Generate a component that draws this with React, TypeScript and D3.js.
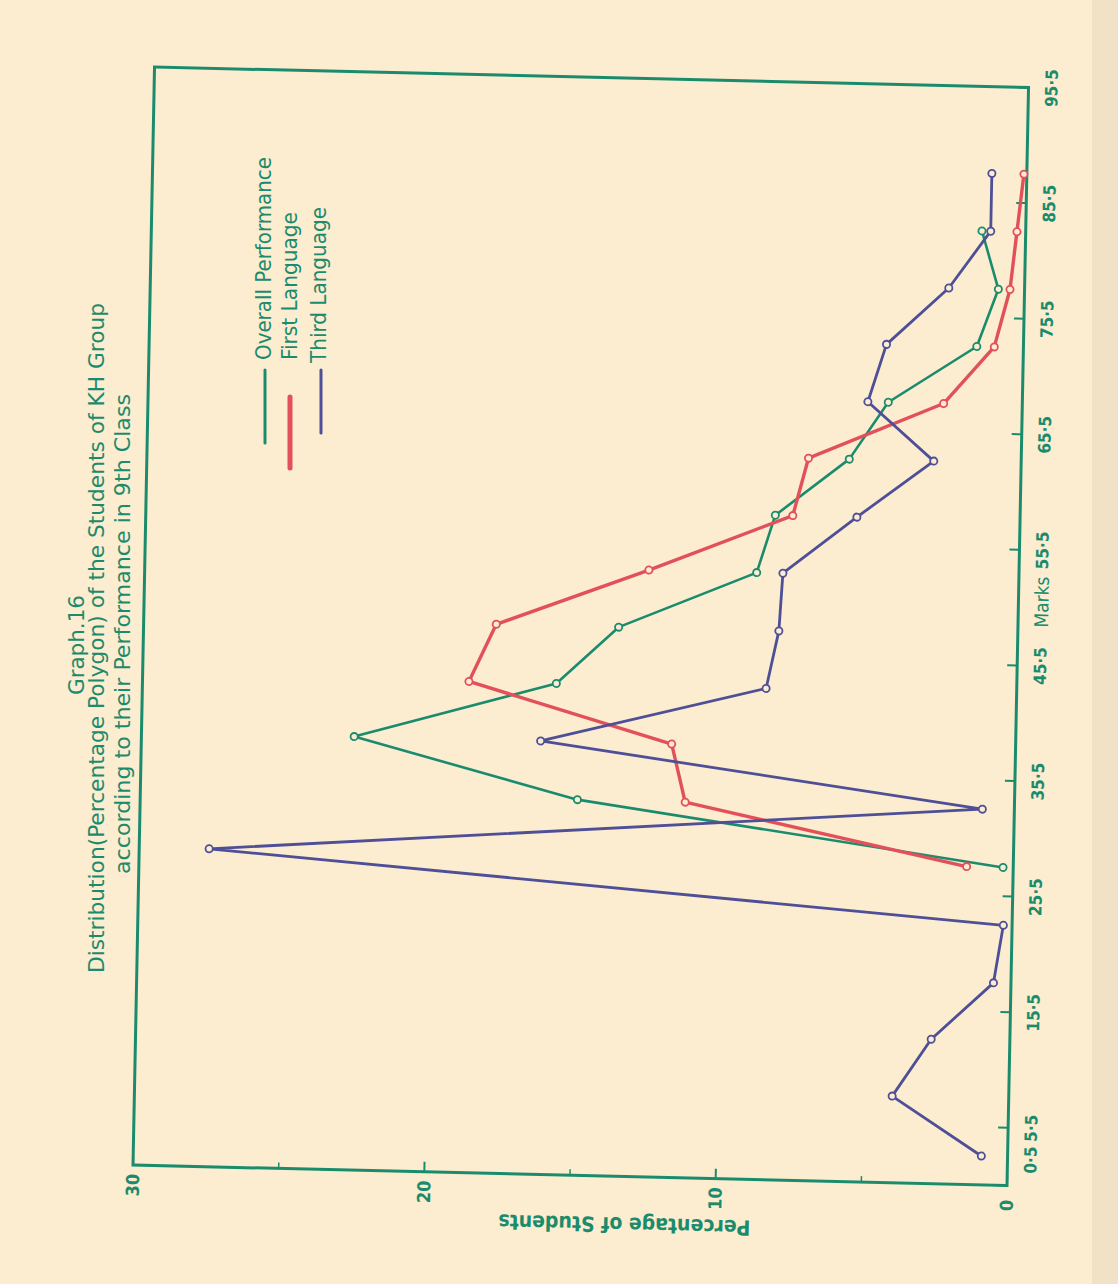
import React from 'react';
import * as d3 from 'd3';

// Class-interval midpoints (marks), intervals of 5 starting at 0.5
const MARKS = [3, 8, 13, 18, 23, 28, 33, 38, 43, 48, 53, 58, 63, 68, 73, 78, 83, 88];

// Percentage of students per interval
const thirdLanguage = [0.9, 4.0, 2.7, 0.6, 0.3, 27.6, 1.1, 16.3, 8.6, 8.2, 8.1, 5.6, 3.0, 5.3, 4.7, 2.6, 1.2, 1.2];
const overallMarks = [28, 33, 38, 43, 48, 53, 58, 63, 68, 73, 78, 83];
const overall = [0.35, 15.0, 22.7, 15.8, 13.7, 9.0, 8.4, 5.9, 4.6, 1.6, 0.9, 1.5];
const firstLanguageMarks = [28, 33, 38, 43, 48, 53, 58, 63, 68, 73, 78, 83, 88];
const firstLanguage = [1.6, 11.3, 11.8, 18.8, 17.9, 12.7, 7.8, 7.3, 2.7, 1.0, 0.5, 0.3, 0.1];

const markTicks = [0.5, 5.5, 15.5, 25.5, 35.5, 45.5, 55.5, 65.5, 75.5, 85.5, 95.5];
const pctTicks = [0, 10, 20, 30];
const pctMinorTicks = [5, 15, 25];

const legendLabels = ['Overall Performance', 'First Language', 'Third Language'];

const BG = '#fcecd0';
const TEAL = '#1b8b6d';
const RED = '#e2505a';
const BLUE = '#4e4f97';
const FONT = "'Liberation Sans Narrow', 'DejaVu Sans Condensed', 'Roboto Condensed', Arial, sans-serif";

const W = 1118;
const H = 1284;
// plot size in the chart's own (unrotated) frame
const PW = 1098;
const PH = 874;

const fmt = (v: number) => String(v).replace('.', '·');

const App: React.FC = () => {
  const x = d3.scaleLinear().domain([0.5, 95.5]).range([0, PW]);
  const y = d3.scaleLinear().domain([0, 30]).range([PH, 0]);

  const series = [
    { name: 'overall', xs: overallMarks, ys: overall, color: TEAL, width: 2.6 },
    { name: 'first', xs: firstLanguageMarks, ys: firstLanguage, color: RED, width: 3.4 },
    { name: 'third', xs: MARKS, ys: thirdLanguage, color: BLUE, width: 2.8 },
  ];

  const legendColors = [TEAL, RED, BLUE];
  const legendLines = [
    [265, 370, 443, 3],
    [290, 397, 468, 5],
    [321, 370, 433, 3],
  ];
  const legendText = [
    [271, 360, 203],
    [297, 360, 148],
    [326, 363, 156],
  ];

  return (
    <svg width={W} height={H} style={{ position: 'absolute', left: 0, top: 0 }} fontFamily={FONT}>
      <rect width={W} height={H} fill={BG} />
      <rect x={1092} width={26} height={H} fill="#e9dcc2" opacity={0.6} />

      {/* Title (vertical on the page) */}
      <g fill={TEAL}>
        <text transform="translate(84,645) rotate(-90)" textAnchor="middle" fontSize={21}
          textLength={100} lengthAdjust="spacingAndGlyphs">Graph.16</text>
        <text transform="translate(104,638) rotate(-90)" textAnchor="middle" fontSize={22}
          textLength={670} lengthAdjust="spacingAndGlyphs">
          Distribution(Percentage Polygon) of the Students of KH Group
        </text>
        <text transform="translate(130,634) rotate(-90)" textAnchor="middle" fontSize={22}
          textLength={480} lengthAdjust="spacingAndGlyphs">
          according to their Performance in 9th Class
        </text>
      </g>

      {/* Legend */}
      {legendLabels.map((l, i) => (
        <g key={l}>
          <line x1={legendLines[i][0]} x2={legendLines[i][0]} y1={legendLines[i][1]} y2={legendLines[i][2]}
            stroke={legendColors[i]} strokeWidth={legendLines[i][3]} strokeLinecap="round" />
          <text transform={`translate(${legendText[i][0]},${legendText[i][1]}) rotate(-90)`} fill={TEAL}
            fontSize={21} textLength={legendText[i][2]} lengthAdjust="spacingAndGlyphs">{l}</text>
        </g>
      ))}

      {/* Chart drawn in its own frame, turned onto the page like the scan */}
      <g transform="matrix(0.0196,-1,1,0.0235,133,1165)">
        <rect x={0} y={0} width={PW} height={PH} fill="none" stroke={TEAL} strokeWidth={3} />

        {markTicks.map((t) => (
          <g key={t} transform={`translate(${x(t)},0)`}>
            <line y1={PH} y2={PH - 10} stroke={TEAL} strokeWidth={2} />
            <text x={t === 0.5 ? 26 : 0} y={PH + 29} textAnchor="middle" fill={TEAL}
              fontSize={17} fontWeight="bold">{fmt(t)}</text>
          </g>
        ))}
        <text x={584} y={PH + 30} textAnchor="middle" fill={TEAL} fontSize={19}>Marks</text>

        {pctTicks.map((t) => (
          <g key={t} transform={`translate(0,${y(t)})`}>
            <line x1={0} x2={10} stroke={TEAL} strokeWidth={2} />
            <text x={-20} dy="0.35em" textAnchor="middle" fill={TEAL} fontSize={18} fontWeight="bold">{t}</text>
          </g>
        ))}
        {pctMinorTicks.map((t) => (
          <line key={t} x1={0} x2={6} y1={y(t)} y2={y(t)} stroke={TEAL} strokeWidth={1.5} />
        ))}
        <text transform={`translate(-41,${y(13.1)}) rotate(-90)`} textAnchor="middle" fill={TEAL}
          fontSize={21} fontWeight="bold" textLength={252} lengthAdjust="spacingAndGlyphs">
          Percentage of Students
        </text>

        {series.map((s) => {
          const line = d3.line<number>().x((_, i) => x(s.xs[i])).y((v) => y(v));
          return (
            <g key={s.name}>
              <path d={line(s.ys) || ''} fill="none" stroke={s.color} strokeWidth={s.width}
                strokeLinejoin="round" strokeLinecap="round" />
              {s.ys.map((v, i) => (
                <circle key={i} cx={x(s.xs[i])} cy={y(v)} r={3.6} fill={BG} stroke={s.color} strokeWidth={1.8} />
              ))}
            </g>
          );
        })}
      </g>
    </svg>
  );
};

export default App;
